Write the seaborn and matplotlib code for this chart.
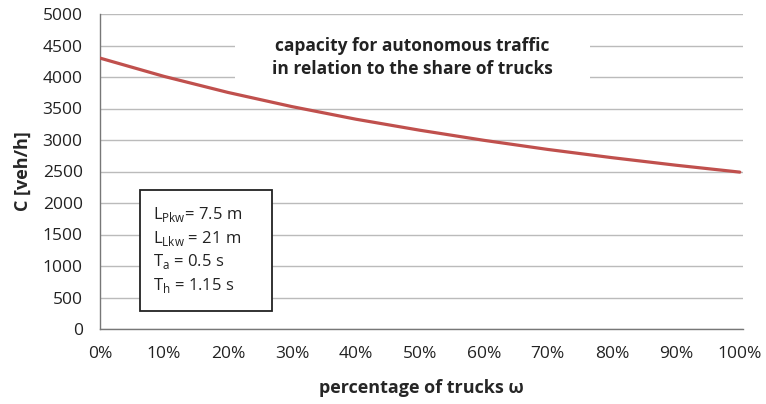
import pandas as pd
import matplotlib.pyplot as plt
import seaborn as sns
from matplotlib.patches import Rectangle

# Data
truck_share = [0, 10, 20, 30, 40, 50, 60, 70, 80, 90, 100]
capacity = [4300, 4010, 3755, 3530, 3330, 3155, 2995, 2850, 2720, 2600, 2490]
y_ticks = [0, 500, 1000, 1500, 2000, 2500, 3000, 3500, 4000, 4500, 5000]
x_tick_labels = [f"{v}%" for v in truck_share]

df = pd.DataFrame({"share": truck_share, "C": capacity})

sns.set_style("white")
plt.rcParams['font.family'] = ['Open Sans', 'DejaVu Sans']

fig = plt.figure(figsize=(7.66, 4.04), dpi=100)
ax = fig.add_axes([100 / 766, 1 - 329 / 404, 643 / 766, 315 / 404])

sns.lineplot(data=df, x="share", y="C", ax=ax, color="#C0504D", linewidth=2.3, zorder=3)

ax.set_xlim(0, 100.5)
ax.set_ylim(0, 5000)
ax.set_yticks(y_ticks)
ax.set_xticks(truck_share)
ax.set_xticklabels(x_tick_labels)
ax.tick_params(axis='both', labelsize=12.5, colors='#222222', length=5,
               direction='inout', color='#555555')
ax.tick_params(axis='x', pad=10)
ax.tick_params(axis='y', pad=10)
ax.grid(axis='y', color='#BBBBBB', linewidth=1)
ax.set_axisbelow(True)

for side in ['top', 'right']:
    ax.spines[side].set_visible(False)
for side in ['left', 'bottom']:
    ax.spines[side].set_color('#777777')
    ax.spines[side].set_linewidth(1)

ax.set_xlabel("percentage of trucks ω", fontsize=13, fontweight='bold', labelpad=12)
ax.set_ylabel("C [veh/h]", fontsize=13, fontweight='bold', labelpad=8)

# Title inside plot: white patch hides the gridlines behind it, line stays on top
ax.add_patch(Rectangle((135 / 643, 239 / 315), 355 / 643, 60 / 315,
                       transform=ax.transAxes, facecolor='white',
                       edgecolor='none', zorder=1))
ax.text(48.8, 4310, "capacity for autonomous traffic\nin relation to the share of trucks",
        ha='center', va='center', fontsize=12.5, fontweight='bold', color='#222222',
        linespacing=1.3, zorder=2)

# Parameter box
ax.add_patch(Rectangle((40 / 643, 18 / 315), 132 / 643, 121 / 315,
                       transform=ax.transAxes, facecolor='white',
                       edgecolor='#222222', linewidth=1.3, zorder=4))
params = (r"L$_{\mathregular{Pkw}}$= 7.5 m" "\n"
          r"L$_{\mathregular{Lkw}}$ = 21 m" "\n"
          r"T$_{\mathregular{a}}$ = 0.5 s" "\n"
          r"T$_{\mathregular{h}}$ = 1.15 s")
ax.text(53 / 643, 79 / 315, params, transform=ax.transAxes, ha='left', va='center',
        fontsize=12, color='#222222', linespacing=1.35, zorder=5)

fig.savefig("out.png", dpi=100)
